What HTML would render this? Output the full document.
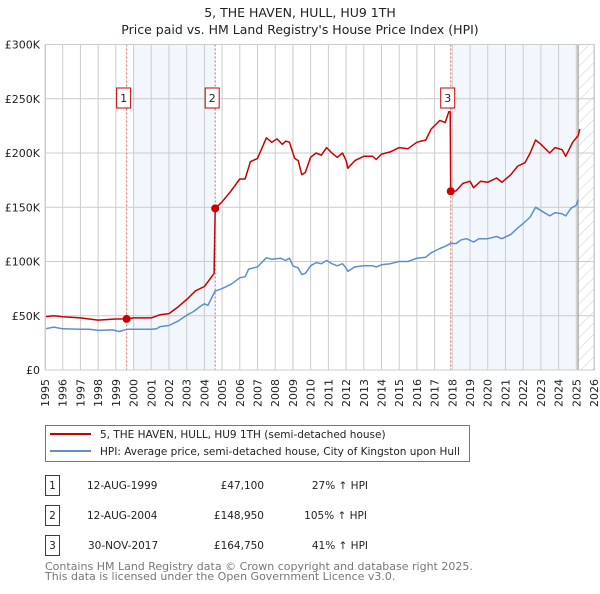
<!DOCTYPE html>
<html><head><meta charset="utf-8">
<style>
body{margin:0;background:#fff;width:600px;height:590px;overflow:hidden;font-family:"DejaVu Sans","Liberation Sans",sans-serif;}
svg text{font-family:"DejaVu Sans","Liberation Sans",sans-serif;}
</style></head>
<body>
<svg id="chart" width="600" height="590" xmlns="http://www.w3.org/2000/svg">
<defs>
<pattern id="hatch" patternUnits="userSpaceOnUse" width="8" height="8" patternTransform="rotate(45)">
<line x1="0" y1="0" x2="0" y2="8" stroke="#ccc" stroke-width="1"/></pattern>
</defs>
<text x="300" y="17" text-anchor="middle" font-size="12.5" fill="#222">5, THE HAVEN, HULL, HU9 1TH</text>
<text x="300" y="34" text-anchor="middle" font-size="12.5" fill="#222">Price paid vs. HM Land Registry's House Price Index (HPI)</text>
<g id="plot"></g>
<g>
<rect x="45.5" y="425.5" width="424" height="36" fill="#fff" stroke="#777"/>
<line x1="50" y1="434" x2="91" y2="434" stroke="#cc0000" stroke-width="2"/>
<text x="100" y="438" font-size="10.5" fill="#222">5, THE HAVEN, HULL, HU9 1TH (semi-detached house)</text>
<line x1="50" y1="451" x2="91" y2="451" stroke="#5b8fd0" stroke-width="2"/>
<text x="100" y="455" font-size="10.5" fill="#222">HPI: Average price, semi-detached house, City of Kingston upon Hull</text>
</g>
<g font-size="10.5" fill="#222">
<rect x="45.5" y="475.5" width="14" height="20" fill="#fff" stroke="#cc0000"/><text x="52.5" y="489" text-anchor="middle">1</text>
<text x="87" y="489">12-AUG-1999</text><text x="264" y="489" text-anchor="end">£47,100</text><text x="368" y="489" text-anchor="end">27% ↑ HPI</text>
<rect x="45.5" y="505.5" width="14" height="20" fill="#fff" stroke="#cc0000"/><text x="52.5" y="519" text-anchor="middle">2</text>
<text x="87" y="519">12-AUG-2004</text><text x="264" y="519" text-anchor="end">£148,950</text><text x="367" y="519" text-anchor="end">105% ↑ HPI</text>
<rect x="45.5" y="535.5" width="14" height="20" fill="#fff" stroke="#cc0000"/><text x="52.5" y="549" text-anchor="middle">3</text>
<text x="88" y="549">30-NOV-2017</text><text x="264" y="549" text-anchor="end">£164,750</text><text x="368" y="549" text-anchor="end">41% ↑ HPI</text>
</g>
<text x="45" y="570" font-size="11" fill="#777">Contains HM Land Registry data © Crown copyright and database right 2025.</text>
<text x="45" y="580" font-size="11" fill="#777">This data is licensed under the Open Government Licence v3.0.</text>
</svg>
<script>
const yTicks=[0,50,100,150,200,250,300];
const yTickLabels=["£0","£50K","£100K","£150K","£200K","£250K","£300K"];
const xYears=[1995,1996,1997,1998,1999,2000,2001,2002,2003,2004,2005,2006,2007,2008,2009,2010,2011,2012,2013,2014,2015,2016,2017,2018,2019,2020,2021,2022,2023,2024,2025,2026];
const saleDates=[1999.61,2004.61,2017.91];
const saleValues=[47.1,148.95,164.75];
const saleLabels=["1","2","3"];
const hpiDates=[1995.0,1995.5,1996,1997,1997.5,1998,1998.8,1999.2,1999.6,2000,2001,2001.3,2001.5,2002,2002.5,2003,2003.4,2003.8,2004,2004.2,2004.6,2005,2005.5,2006,2006.3,2006.5,2007,2007.5,2007.8,2008.3,2008.6,2008.8,2009,2009.3,2009.5,2009.7,2010,2010.3,2010.6,2010.9,2011.2,2011.5,2011.8,2012,2012.1,2012.5,2013,2013.5,2013.7,2014,2014.5,2015,2015.5,2016,2016.5,2016.8,2017.3,2017.6,2017.9,2018.2,2018.5,2018.8,2019.2,2019.5,2020,2020.5,2020.8,2021.3,2021.7,2022,2022.4,2022.7,2023.2,2023.5,2023.8,2024.2,2024.4,2024.7,2025,2025.1];
const hpiValues=[38,39.5,38,37.5,37.5,36.5,37,35.5,37.5,37.5,37.5,38,40,41,45,50.5,54,59,61,59.5,72.6,75,79,85,86,93,95,103.5,102,103,101,103,96,94,88,89,96,99,98,101,98,96,98,94,91,95,96,96,95,97,98,100,100,103,104,108,112,114,116.8,116.5,120,121,118,121,121,123,121,125,131,135,141,150,145,142,145,144,142,149,152,157];
const propDates=[1995,1995.5,1996,1997,1998,1999,1999.61,2000,2001,2001.5,2002,2002.5,2003,2003.5,2004,2004.55,2004.61,2005,2005.5,2006,2006.3,2006.6,2007,2007.5,2007.8,2008.1,2008.4,2008.6,2008.8,2009.1,2009.3,2009.5,2009.7,2010,2010.3,2010.6,2010.9,2011.2,2011.5,2011.8,2012,2012.1,2012.5,2013,2013.5,2013.7,2014,2014.5,2015,2015.5,2016,2016.5,2016.8,2017.3,2017.6,2017.8,2017.88,2017.91,2018.2,2018.6,2019,2019.2,2019.6,2020,2020.5,2020.8,2021.3,2021.7,2022.1,2022.4,2022.7,2023,2023.5,2023.8,2024.2,2024.4,2024.8,2025.1,2025.2];
const propValues=[49,50,49,48,46,47,47.1,48,48,51,52,58,65,73,77,89,148.95,155,165,176,176,192,195,214,210,213,208,211,210,195,193,180,182,196,200,198,205,200,196,200,193,186,193,197,197,194,199,201,205,204,210,212,222,230,228,238,238,164.75,165,172,174,168,174,173,177,173,180,188,191,200,212,208,200,205,203,197,210,216,222];

const X0=45,X1=594,Y0=370,Y1=44.5;
const xs=y=>X0+(y-1995)/(2026-1995)*(X1-X0);
const ys=v=>Y0-v/300*(Y0-Y1);
const NS="http://www.w3.org/2000/svg";
const plot=document.getElementById('plot');
function mk(tag,attrs,parent){const e=document.createElementNS(NS,tag);for(const k in attrs)e.setAttribute(k,attrs[k]);(parent||plot).appendChild(e);return e;}

let e;
e=mk('rect',{x:xs(2000),y:Y1,width:xs(saleDates[1])-xs(2000),height:Y0-Y1,fill:'#f2f6fd'});


e=mk('rect',{x:xs(2018),y:Y1,width:xs(2025.1)-xs(2018),height:Y0-Y1,fill:'#f2f6fd'});


e=mk('rect',{x:xs(2025.1),y:Y1,width:X1-xs(2025.1),height:Y0-Y1,fill:'url(#hatch)'});



xYears.forEach(yr=>{
  e=mk('line',{x1:xs(yr),x2:xs(yr),y1:Y1,y2:Y0,stroke:'#cccccc','stroke-width':1});
  
  
  e=mk('text',{x:0,y:0,transform:`translate(${xs(yr)+4},${Y0+37}) rotate(-90)`,'font-size':11,fill:'#222'});
  e.textContent=yr;
  
  
});
yTicks.forEach((v,i)=>{
  e=mk('line',{x1:X0,x2:X1,y1:ys(v),y2:ys(v),stroke:'#cccccc','stroke-width':1});
  
  
  e=mk('text',{x:40,y:ys(v)+4,'text-anchor':'end','font-size':11,fill:'#222'});
  e.textContent=yTickLabels[i];
  
  
});
e=mk('line',{x1:xs(2025.1),x2:xs(2025.1),y1:Y1,y2:Y0,stroke:'#999','stroke-width':1.2});



saleDates.forEach((d,i)=>{
  e=mk('line',{x1:xs(d),x2:xs(d),y1:Y1,y2:Y0,stroke:'#e06060','stroke-width':1,'stroke-dasharray':'2,2'});
  
  
});

function pathD(ds,vs){return ds.map((d,i)=>(i?'L':'M')+xs(d).toFixed(1)+','+ys(vs[i]).toFixed(1)).join(' ');}
e=mk('path',{d:pathD(hpiDates,hpiValues),fill:'none',stroke:'#5b8fd0','stroke-width':1.5,'stroke-linejoin':'round'});


e=mk('path',{d:pathD(propDates,propValues),fill:'none',stroke:'#cc0000','stroke-width':1.5,'stroke-linejoin':'round'});



saleDates.forEach((d,i)=>{
  e=mk('circle',{cx:xs(d),cy:ys(saleValues[i]),r:4,fill:'#cc0000'});
  
  
  const bx=xs(d)-10;
  e=mk('rect',{x:bx,y:88,width:14,height:20,fill:'#fff',stroke:'#cc0000'});
  
  
  e=mk('text',{x:bx+7,y:102,'text-anchor':'middle','font-size':11,fill:'#222'});
  e.textContent=saleLabels[i];
  
  
});
e=mk('rect',{x:X0+0.5,y:Y1,width:X1-X0,height:Y0-Y1,fill:'none',stroke:'#cccccc'});


</script>
</body></html>
